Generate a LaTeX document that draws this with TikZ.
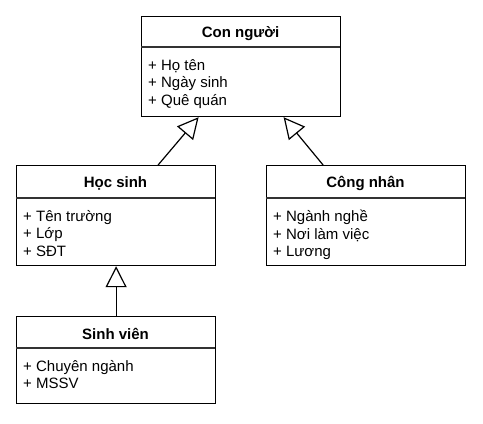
\documentclass[tikz,border=0pt]{standalone}
\usepackage{fontspec}
\setmainfont{Liberation Sans}
\usetikzlibrary{arrows.meta}
\tikzset{
  classbox/.style={draw=black, line width=1.2bp, fill=white, rectangle, inner sep=0pt, anchor=north west, minimum width=199bp},
  classtitle/.style={font=\bfseries\fontsize{15bp}{17.5bp}\selectfont, inner sep=0pt},
  attrs/.style={font=\fontsize{15bp}{17.5bp}\selectfont, align=left, anchor=north west, inner sep=0pt},
  divider/.style={line width=1.2bp, draw=black!80},
  gen/.style={line width=1.2bp, -{Triangle[open, length=21bp, width=21bp, fill=white]}},
}
\begin{document}
\begin{tikzpicture}[x=1bp, y=-1bp]
\useasboundingbox[fill=white] (0,0) rectangle (483,423);

% Con nguoi
\node[classbox, minimum height=100bp] (cp) at (141,16) {};
\draw[divider] (141,47) -- (340,47);
\node[classtitle] (cpt) at (240.5,33.5) {Con người};
\node[attrs] (cpa) at (148,59) {+ Họ tên\\+ Ngày sinh\\+ Quê quán};

% Hoc sinh
\node[classbox, minimum height=100bp] (hs) at (16,165) {};
\draw[divider] (16,198) -- (215,198);
\node[classtitle] (hst) at (115.5,183.5) {Học sinh};
\node[attrs] (hsa) at (23,210) {+ Tên trường\\+ Lớp\\+ SĐT};

% Cong nhan
\node[classbox, minimum height=100bp] (cn) at (266,165) {};
\draw[divider] (266,198) -- (465,198);
\node[classtitle] (cnt) at (365.5,183.5) {Công nhân};
\node[attrs] (cna) at (273,210) {+ Ngành nghề\\+ Nơi làm việc\\+ Lương};

% Sinh vien
\node[classbox, minimum height=87bp] (sv) at (16,316) {};
\draw[divider] (16,348) -- (215,348);
\node[classtitle] (svt) at (115.5,333.5) {Sinh viên};
\node[attrs] (sva) at (23,360) {+ Chuyên ngành\\+ MSSV};

% Generalizations
\draw[gen] ([xshift=42bp]hs.north) -- ([xshift=-42.5bp]cp.south);
\draw[gen] ([xshift=-43bp]cn.north) -- ([xshift=42.5bp]cp.south);
\draw[gen] (sv.north) -- (hs.south);
\end{tikzpicture}
\end{document}
